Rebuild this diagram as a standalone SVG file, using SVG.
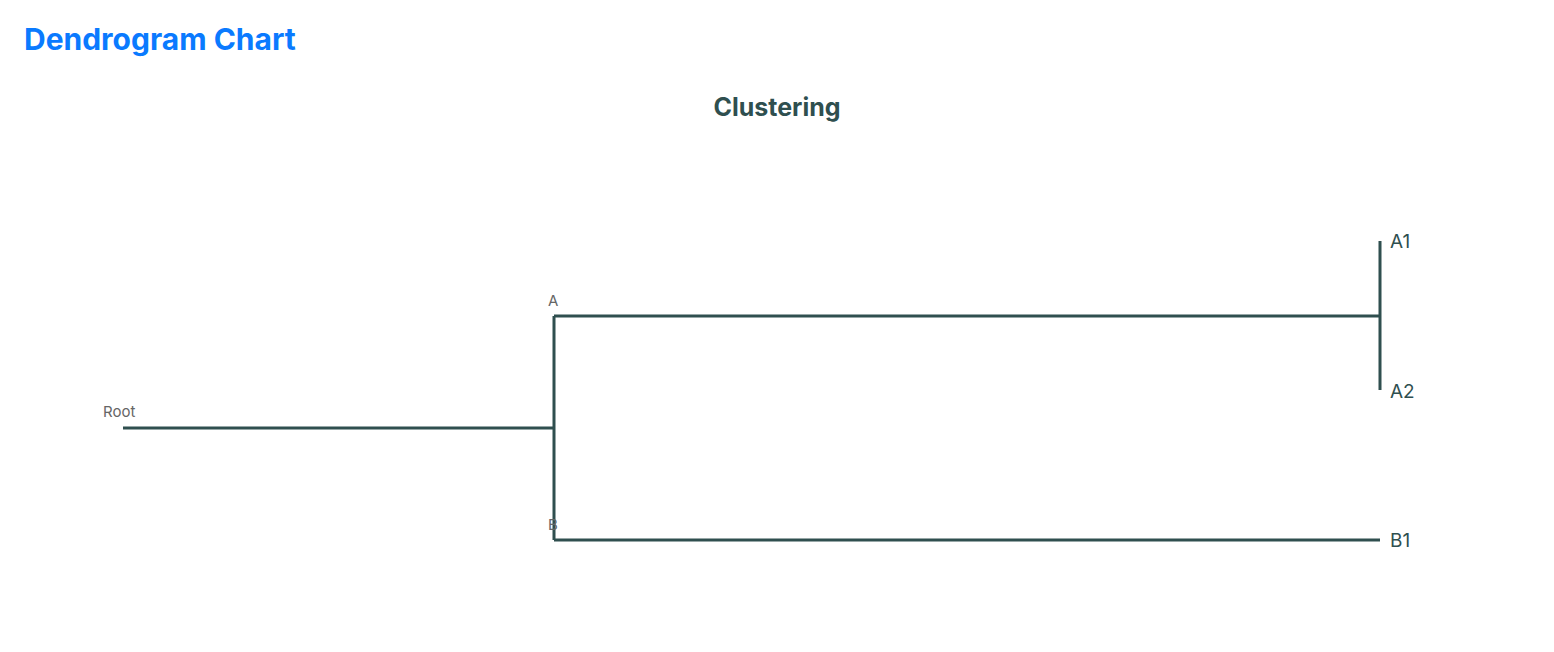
<svg xmlns="http://www.w3.org/2000/svg" width="1554" height="652" viewBox="0 0 1554 652">
<style>
.l{stroke:#2f4f4f;stroke-width:3;fill:none}
.n{font-family:Inter,"Liberation Sans",sans-serif;font-size:15px;fill:#666}
.f{font-family:Inter,"Liberation Sans",sans-serif;font-size:19px;fill:#2f4f4f}
</style>
<rect width="1554" height="652" fill="#fff"/>
<text x="24" y="50" font-family="Inter,'Liberation Sans',sans-serif" font-size="30" font-weight="bold" fill="#0a7aff">Dendrogram Chart</text>
<text x="777" y="116" text-anchor="middle" font-family="Inter,'Liberation Sans',sans-serif" font-size="25" font-weight="bold" fill="#2f4f4f">Clustering</text>
<g id="connectors">
<path class="l" d="M123,428H554M554,316V540M554,316H1380M1380,241V390M554,540H1380"/>
</g>
<g id="root"><text class="n" x="103" y="417">Root</text></g>
<g id="A"><text class="n" x="548" y="306">A</text></g>
<g id="B"><text class="n" x="548" y="530">B</text></g>
<g id="A1"><text class="f" x="1390" y="248">A1</text></g>
<g id="A2"><text class="f" x="1390" y="398">A2</text></g>
<g id="B1"><text class="f" x="1390" y="547">B1</text></g>
</svg>
